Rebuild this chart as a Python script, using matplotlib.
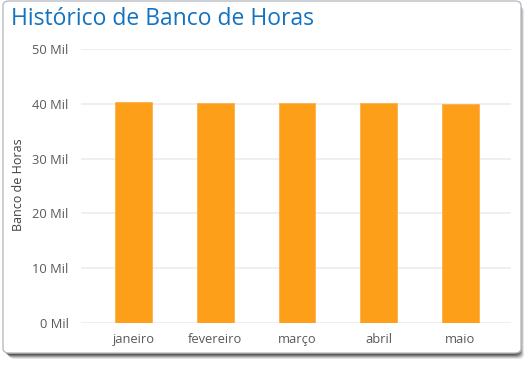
import matplotlib
matplotlib.use("Agg")
import matplotlib.pyplot as plt
from matplotlib.patches import FancyBboxPatch
import numpy as np

months = ["janeiro", "fevereiro", "março", "abril", "maio"]
values = [40350, 40150, 40100, 40150, 40050]
yticks = [0, 10000, 20000, 30000, 40000, 50000]
ytick_labels = ["0 Mil", "10 Mil", "20 Mil", "30 Mil", "40 Mil", "50 Mil"]

W, H = 527, 366
fig = plt.figure(figsize=(W / 100, H / 100), dpi=100)
fig.patch.set_facecolor("white")

def fx(px):
    return px / W

def fy(py):
    return 1 - py / H

# Shadow layers
for i, a in enumerate([0.12, 0.18, 0.26, 0.36, 0.48]):
    off = 6 - i
    sh = FancyBboxPatch((fx(3 + off), fy(353 + off)), fx(518 - 3), (353 - 1) / H,
                        boxstyle="round,pad=0,rounding_size=0.012",
                        transform=fig.transFigure, facecolor="#333333",
                        edgecolor="none", alpha=a, zorder=0)
    fig.patches.append(sh)

card = FancyBboxPatch((fx(3), fy(353)), fx(518), (353 - 1) / H,
                      boxstyle="round,pad=0,rounding_size=0.012",
                      transform=fig.transFigure, facecolor="white",
                      edgecolor="#b8bcc4", linewidth=1.0, zorder=1)
fig.patches.append(card)

fig.text(fx(11), fy(19), "Histórico de Banco de Horas", color="#1473C0",
         fontsize=16.5, family="Open Sans", va="center", ha="left", zorder=3)

ax = fig.add_axes([fx(81), fy(323), fx(511 - 81), (323 - 49) / H])
ax.set_facecolor("none")
ax.set_zorder(2)
x = np.arange(len(months))
ax.bar(x, values, width=0.45, color="#FE9F1A", edgecolor="#FFB04A", linewidth=0.6, zorder=3)
ax.set_ylim(0, 50000)
step = 81.75
left_cat = (133.5 - 81) / step
right_cat = (511 - 460.5) / step
ax.set_xlim(-left_cat, len(months) - 1 + right_cat)
ax.set_yticks(yticks)
ax.set_yticklabels(ytick_labels)
ax.set_xticks(x)
ax.set_xticklabels(months)
ax.grid(axis="y", color="#ececec", linewidth=1.2, zorder=0)
ax.set_axisbelow(True)
for s in ax.spines.values():
    s.set_visible(False)
ax.tick_params(axis="both", length=0, colors="#595959", labelsize=9.3)
ax.tick_params(axis="y", pad=9)
ax.tick_params(axis="x", pad=7)
for lbl in ax.get_xticklabels() + ax.get_yticklabels():
    lbl.set_family("Open Sans")
    lbl.set_color("#595959")

fig.text(fx(19), fy(185), "Banco de Horas", rotation=90, color="#404040",
         fontsize=9.0, family="Open Sans", va="center", ha="center", zorder=3)

fig.savefig("out.png", dpi=100, facecolor="white")
